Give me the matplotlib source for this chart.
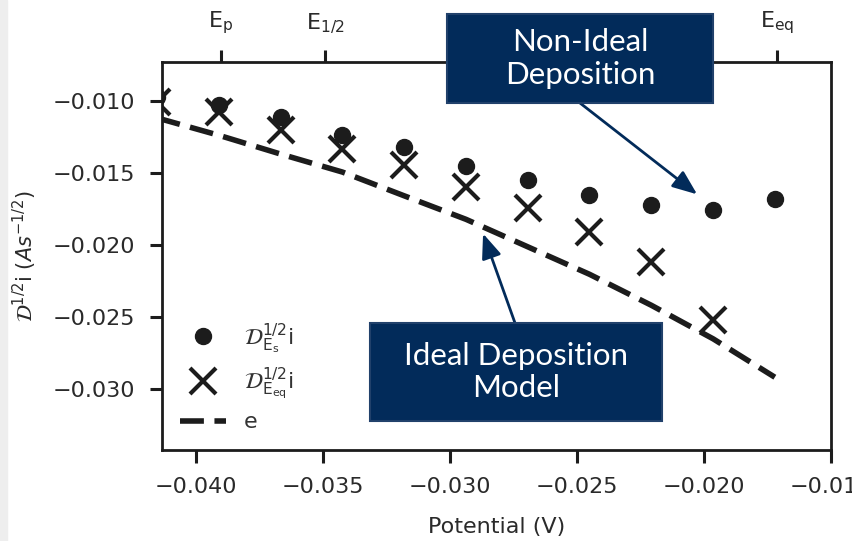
import matplotlib.pyplot as plt
import numpy as np
from matplotlib.patches import Rectangle

plt.rcParams['mathtext.fontset'] = 'dejavusans'

# potentials where the currents were sampled (V)
potential = [-0.04154, -0.03910, -0.03666, -0.03423, -0.03180, -0.02936,
             -0.02693, -0.02450, -0.02206, -0.01963, -0.01720]
# semi-integrated current, referenced to E_s
semi_es = [-0.00970, -0.01030, -0.01111, -0.01234, -0.01320, -0.01452,
           -0.01551, -0.01656, -0.01726, -0.01760, -0.01684]
# semi-integrated current, referenced to E_eq (no point at the last potential)
semi_eq = [-0.01009, -0.01079, -0.01199, -0.01331, -0.01447, -0.01598,
           -0.01741, -0.01911, -0.02120, -0.02525]
# ideal deposition model
model = [-0.01117, -0.01238, -0.01369, -0.01494, -0.01659, -0.01823,
         -0.02014, -0.02205, -0.02421, -0.02654, -0.02921]

x_ticklabels = ['\u22120.040', '\u22120.035', '\u22120.030', '\u22120.025',
                '\u22120.020', '\u22120.015']
y_ticklabels = ['\u22120.030', '\u22120.025', '\u22120.020', '\u22120.015',
                '\u22120.010']
top_ticks = [-0.03903, -0.0349, -0.0171]
top_labels = [r'$\mathrm{E_p}$', r'$\mathrm{E_{1/2}}$', r'$\mathrm{E_{eq}}$']

navy = '#022b5a'
ink = '#1c1c1c'
grey_text = '#2a2a2a'
W, H = 852, 541

fig = plt.figure(figsize=(W / 100, H / 100), dpi=100)
fig.patches.append(Rectangle((0, 0), 0.008, 1, transform=fig.transFigure,
                             color='#eeeeee', zorder=0))
ax = fig.add_axes([0.190, 0.168, 0.785, 0.717])

ax.plot(potential, semi_es, 'o', color=ink, ms=11.5,
        label=r'$\mathcal{D}^{1/2}_{\mathrm{E_s}}$i')
ax.plot(potential[:len(semi_eq)], semi_eq, 'x', color=ink, ms=19, mew=3,
        label=r'$\mathcal{D}^{1/2}_{\mathrm{E_{eq}}}$i')
ax.plot(potential, model, '--', color=ink, lw=4, dashes=(4.3, 1.9), label='e')

ax.set_xlim(-0.04134, -0.015)
ax.set_ylim(-0.03428, -0.0073)
ax.set_xticks(np.arange(-0.040, -0.0149, 0.005))
ax.set_yticks(np.arange(-0.030, -0.0099, 0.005))
ax.set_xticklabels(x_ticklabels)
ax.set_yticklabels(y_ticklabels)
ax.tick_params(labelsize=16, length=9, width=2.2, pad=10, color=ink,
               labelcolor=grey_text)
for s in ax.spines.values():
    s.set_linewidth(2)
    s.set_color(ink)

ax.set_xlabel('Potential (V)', fontsize=16, color=grey_text, labelpad=15)
ax.set_ylabel(r'$\mathcal{D}^{1/2}$i $(As^{-1/2})$', fontsize=15,
              color=grey_text, labelpad=10)

top = ax.twiny()
top.set_xlim(ax.get_xlim())
top.set_xticks(top_ticks)
top.set_xticklabels(top_labels)
top.tick_params(labelsize=16, length=9, width=2.2, pad=10, color=ink,
                labelcolor=grey_text)
for s in top.spines.values():
    s.set_visible(False)

ax.legend(loc='lower left', frameon=False, fontsize=16, labelspacing=0.45,
          handlelength=2.1, borderaxespad=0.4, labelcolor='#333333')

# callout boxes, placed in figure pixels (left, top, width, height)
callouts = [
    ('Non-Ideal\nDeposition', (447, 14, 266, 89), (580, 103), (-0.02026, -0.01649)),
    ('Ideal Deposition\nModel', (370, 323, 292, 98), (515, 323), (-0.02869, -0.01922)),
]
for text, (x0, y0, w, h), start, tip in callouts:
    fig.patches.append(Rectangle((x0 / W, 1 - (y0 + h) / H), w / W, h / H,
                                 transform=fig.transFigure, fc=navy,
                                 ec='#21416b', lw=1.5, zorder=5))
    fig.text((x0 + w / 2) / W, 1 - (y0 + h / 2) / H, text, fontsize=22.5,
             family='Lato', color='white', ha='center', va='center',
             linespacing=1.2, zorder=6)
    ax.annotate('', xy=tip, xycoords='data',
                xytext=(start[0], H - start[1]), textcoords='figure pixels',
                arrowprops=dict(arrowstyle='-|>,head_length=1.5,head_width=0.6',
                                mutation_scale=10, color=navy, lw=2,
                                shrinkA=0, shrinkB=0),
                annotation_clip=False)

fig.savefig('out.png', dpi=100)
